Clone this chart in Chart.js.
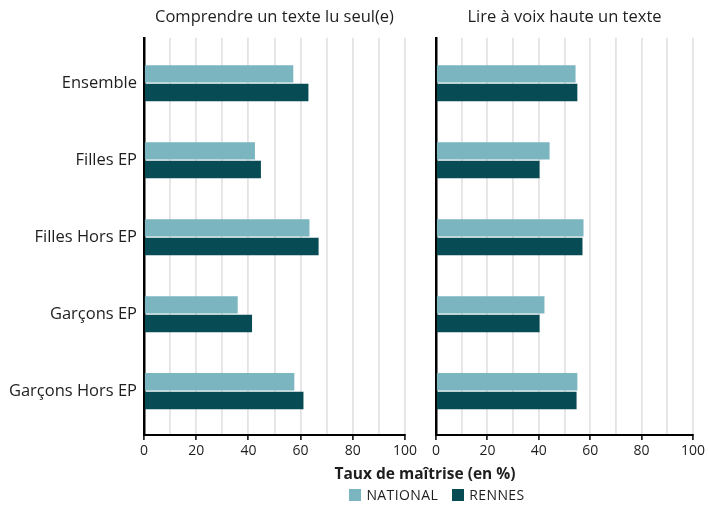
<!DOCTYPE html>
<html>
<head>
<meta charset="utf-8">
<script src="https://cdn.jsdelivr.net/npm/chart.js@4.4.1/dist/chart.umd.min.js"></script>
<style>
  body { margin: 0; background: #fff; font-family: "Open Sans", sans-serif; color: #1e1e1e; }
  #wrap { position: relative; width: 708px; height: 505px; overflow: hidden; }
  .panel { position: absolute; top: 0; height: 465px; }
  #axisTitle { position: absolute; top: 462px; left: 220px; width: 410px; text-align: center; font-weight: 700; font-size: 15.5px; }
  #legend { position: absolute; top: 485px; left: 237px; width: 400px; text-align: center; font-size: 14px; letter-spacing: 0.4px; }
  #legend span.item { margin: 0 7px; white-space: nowrap; }
  #legend i { display: inline-block; width: 12px; height: 12px; vertical-align: -1px; margin-right: 5px; }
</style>
</head>
<body>
<div id="wrap">
  <div class="panel" style="left:0;width:420px"><canvas id="left"></canvas></div>
  <div class="panel" style="left:420px;width:288px"><canvas id="right"></canvas></div>
  <div id="axisTitle">Taux de maîtrise (en %)</div>
  <div id="legend"></div>
</div>
<script>
const categories = ["Ensemble", "Filles EP", "Filles Hors EP", "Garçons EP", "Garçons Hors EP"];
const panelTitles = ["Comprendre un texte lu seul(e)", "Lire à voix haute un texte"];
const seriesNames = ["NATIONAL", "RENNES"];
const seriesColors = ["#7ab5c0", "#074c54"];

// Comprendre un texte lu seul(e)
const comprendreNational = [57.2, 42.5, 63.4, 35.9, 57.6];
const comprendreRennes = [63.0, 44.8, 66.9, 41.4, 61.1];
// Lire à voix haute un texte
const lireNational = [54.3, 44.2, 57.4, 42.2, 55.0];
const lireRennes = [55.0, 40.3, 57.0, 40.3, 54.7];

const xTicks = [0, 20, 40, 60, 80, 100];

const toPoints = (values) => values.map((v, i) => ({ x: v, y: i }));

function makePanel(canvasId, title, national, rennes, showLabels, yWidth, padRight) {
  return new Chart(document.getElementById(canvasId), {
    type: "bar",
    data: {
      datasets: [
        { label: seriesNames[0], data: toPoints(national), backgroundColor: seriesColors[0] },
        { label: seriesNames[1], data: toPoints(rennes), backgroundColor: seriesColors[1] }
      ]
    },
    options: {
      indexAxis: "y",
      responsive: true,
      maintainAspectRatio: false,
      animation: false,
      categoryPercentage: 0.485,
      barPercentage: 0.93,
      layout: { padding: { left: 0, right: padRight, top: 0, bottom: 0 } },
      plugins: {
        legend: { display: false },
        tooltip: { enabled: false },
        title: {
          display: true,
          fullSize: false,
          text: title,
          color: "#1e1e1e",
          font: { family: "Open Sans", size: 16.5, weight: "normal" },
          padding: { top: 7, bottom: 11 }
        }
      },
      scales: {
        x: {
          type: "linear",
          min: 0,
          max: 100,
          ticks: {
            stepSize: 10,
            autoSkip: false,
            maxRotation: 0,
            padding: 3,
            color: "#1e1e1e",
            font: { family: "Open Sans", size: 14 },
            callback: (v) => (xTicks.includes(v) ? v : "")
          },
          grid: {
            color: "#e4e4e4",
            lineWidth: 1.8,
            tickLength: 5,
            tickColor: (ctx) => (ctx.tick && xTicks.includes(ctx.tick.value) ? "#000" : "rgba(0,0,0,0)"),
            tickWidth: 1.5
          },
          border: { display: true, color: "#000", width: 2 },
          afterFit: (scale) => { scale.height = 30; }
        },
        y: {
          type: "linear",
          reverse: true,
          offset: false,
          min: -0.59,
          max: 4.57,
          afterBuildTicks: (scale) => { scale.ticks = categories.map((_, i) => ({ value: i })); },
          ticks: {
            display: showLabels,
            padding: 7,
            color: "#1e1e1e",
            font: { family: "Open Sans", size: 16.5 },
            callback: (v) => categories[v]
          },
          grid: { display: false, drawTicks: false },
          border: { display: true, color: "#000", width: 2.5 },
          afterFit: (scale) => { scale.width = yWidth; }
        }
      }
    }
  });
}

makePanel("left", panelTitles[0], comprendreNational, comprendreRennes, true, 144, 15);
makePanel("right", panelTitles[1], lireNational, lireRennes, false, 16, 12);

document.getElementById("legend").innerHTML = seriesNames
  .map((n, i) => `<span class="item"><i style="background:${seriesColors[i]}"></i>${n}</span>`)
  .join("");
</script>
</body>
</html>
